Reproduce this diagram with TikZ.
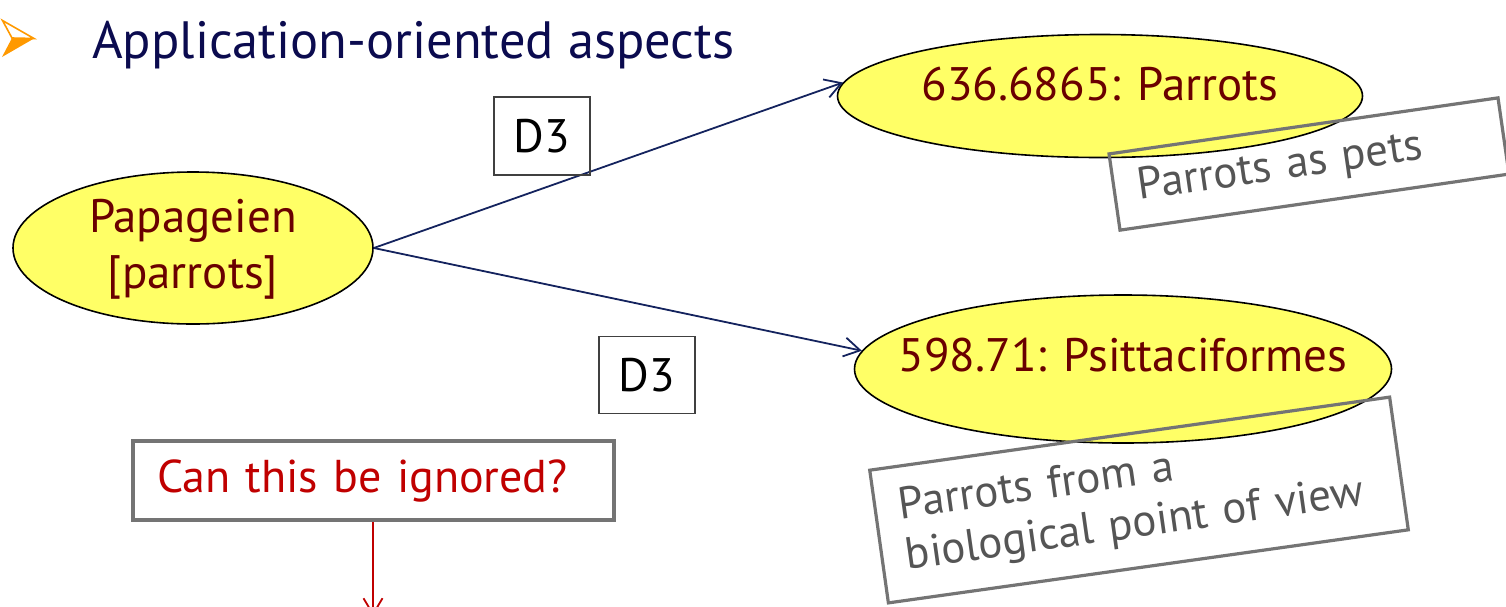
\documentclass[tikz,border=0pt]{standalone}
\usepackage{fontspec}
\setmainfont{PT Sans}
\usetikzlibrary{arrows.meta,shapes.geometric}
\definecolor{navy}{HTML}{0B0B4F}
\definecolor{linkblue}{HTML}{14235E}
\definecolor{fillyellow}{HTML}{FFFF66}
\definecolor{darkred}{HTML}{6A0000}
\definecolor{alertred}{HTML}{C00000}
\definecolor{notegray}{HTML}{747474}
\definecolor{notetext}{HTML}{555555}
\definecolor{bulletorange}{HTML}{FF9900}
% text of a fixed-size node, kept out of the node's size computation
\newcommand{\flatlabel}[2]{\makebox[0pt]{\raisebox{#1}[0pt][0pt]{#2}}}
\tikzset{
  concept/.style={ellipse, draw=black, line width=1.6pt, fill=fillyellow,
    text=darkred, inner sep=0pt, align=center,
    font=\fontsize{47}{56}\selectfont},
  relbox/.style={draw=black!75, line width=1.4pt, inner sep=0pt,
    font=\fontsize{47}{56}\selectfont},
  note/.style={draw=notegray, line width=3.2pt, text=notetext, align=left,
    inner xsep=24pt, inner ysep=0pt, font=\fontsize{45}{51}\selectfont},
  barb/.style={-{Straight Barb[length=16pt,width=19pt,line width=1.8pt]}},
  relation/.style={draw=linkblue, line width=1.8pt, barb},
  question/.style={draw=notegray, line width=3.6pt, text=alertred,
    inner sep=0pt, font=\fontsize{46}{54}\selectfont},
}
\begin{document}
\begin{tikzpicture}[x=1pt,y=-1pt]
  \useasboundingbox (0,0) rectangle (1506,606);
  \clip (0,0) rectangle (1506,606);

  % bullet and heading
  \fill[bulletorange] (12,38) -- (34,38.5) -- (2,57) -- cycle;
  \draw[bulletorange, line width=1.6pt, line join=miter] (2.5,20.5) -- (34,38.5) -- (12,38) -- cycle;
  \node[anchor=base west, text=navy, inner sep=0pt,
        font=\fontsize{52.5}{60}\selectfont] (title) at (92,58) {Application-oriented aspects};

  % concepts
  \node[concept, minimum width=360pt, minimum height=152pt] (pap) at (193,248)
       {\flatlabel{-8pt}{\begin{tabular}{@{}c@{}}Papageien\\{[parrots]}\end{tabular}}};
  \node[concept, minimum width=525pt, minimum height=123pt] (pets) at (1100,96)
       {\flatlabel{-4pt}{636.6865: Parrots}};
  \node[concept, minimum width=537pt, minimum height=148pt] (bio) at (1123,369)
       {\flatlabel{-2pt}{598.71: Psittaciformes}};

  % relations
  \draw[relation] (pap.east) -- (pets.177.5);
  \draw[relation] (pap.east) -- (bio.176.5);
  \node[relbox, minimum width=96pt, minimum height=78pt] (d3a) at (542,136) {D3};
  \node[relbox, minimum width=96pt, minimum height=77pt] (d3b) at (647,375) {D3};

  % annotations
  \node[note, rotate=8.2, text width=345pt, minimum height=77pt] (petsnote) at (1309,164)
       {Parrots as pets};
  \node[note, rotate=8, text width=477pt, minimum height=134pt] (bionote) at (1139,500)
       {Parrots from a\\biological point of view\\[6pt]};

  % question
  \node[question, minimum width=481pt, minimum height=79pt, text width=433pt,
        align=left, inner xsep=24pt] (ask) at (373.5,480.5) {Can this be ignored?};
  \coordinate (askend) at (373,616);
  \draw[draw=alertred, line width=2pt, barb] (ask.south -| askend) -- (askend);
\end{tikzpicture}
\end{document}
